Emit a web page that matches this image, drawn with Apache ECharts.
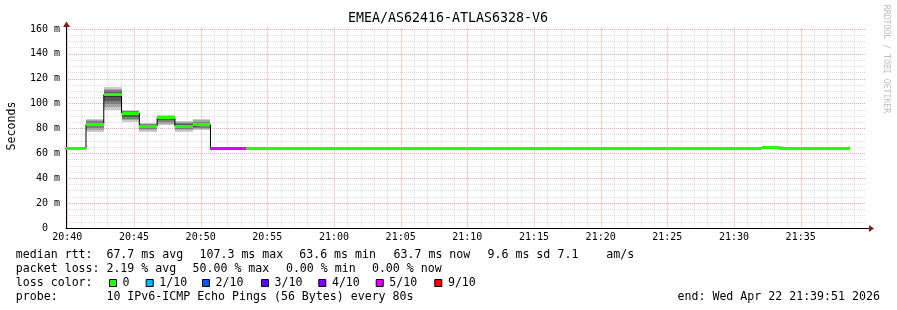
<!DOCTYPE html>
<html><head><meta charset="utf-8">
<script src="https://cdn.jsdelivr.net/npm/echarts@6/dist/echarts.min.js"></script>
<style>html,body{margin:0;padding:0;background:#fff}#c{width:897px;height:310px}</style>
</head><body><div id="c"></div>
<script>
// ---------------- data ----------------
const chartTitle = 'EMEA/AS62416-ATLAS6328-V6';
const graphStart = '20:39:54';
const graphEnd = '21:39:54';
// start of each 80 s step (last entry = end of last step)
const bucketTimes = ['20:38:44','20:40:04','20:41:24','20:42:44','20:44:04','20:45:24','20:46:44','20:48:04','20:49:24','20:50:44',
  '20:52:04','20:53:24','20:54:44','20:56:04','20:57:24','20:58:44','21:00:04','21:01:24','21:02:44','21:04:04',
  '21:05:24','21:06:44','21:08:04','21:09:24','21:10:44','21:12:04','21:13:24','21:14:44','21:16:04','21:17:24',
  '21:18:44','21:20:04','21:21:24','21:22:44','21:24:04','21:25:24','21:26:44','21:28:04','21:29:24','21:30:44',
  '21:32:04','21:33:24','21:34:44','21:36:04','21:37:24','21:38:44'];
// median rtt per step, ms
const medians = [63.7,63.7,83.4,107.1,92.4,82.0,88.7,82.0,83.0,64.2,
  63.7,63.7,63.7,63.7,63.7,64.3,64.3,64.3,64.3,64.3,
  63.7,63.7,63.7,63.7,63.7,63.7,64.3,64.3,64.3,64.3,
  64.3,64.3,63.6,63.6,63.6,63.6,63.6,64.3,64.3,64.3,
  65.0,64.3,63.7,63.7,63.7];
// lost pings (of 10) per step
const lossCounts = [0,0,0,0,0,0,0,0,0,5,
  5,0,0,0,0,0,0,0,0,0,
  0,0,0,0,0,0,0,0,0,0,
  0,0,0,0,0,0,0,0,0,0,
  0,0,0,0,0];
// sorted ping times (ms) per step where smoke is visible
const pings = [null,null,
  [76.8,78.5,80.5,81.8,83.0,83.8,84.8,85.8,86.8,87.6],
  [95.0,97.5,100.0,102.5,105.5,108.0,109.5,110.8,112.0,113.3],
  [85.2,86.5,88.0,89.5,91.5,92.8,93.3,93.8,94.2,94.5],
  [77.2,78.5,79.5,80.5,81.5,82.3,82.8,83.3,83.9,84.4],
  [82.5,83.8,85.0,86.5,88.0,89.0,89.5,89.9,90.2,90.5],
  [77.2,78.5,79.5,80.5,81.5,82.5,83.5,84.5,85.3,86.0],
  [78.5,79.5,80.5,81.8,82.8,83.3,84.3,85.5,86.7,87.9]];
const tickLabels = ['20:40','20:45','20:50','20:55','21:00','21:05','21:10','21:15','21:20','21:25','21:30','21:35'];
const lossLegendLabels = ['0','1/10','2/10','3/10','4/10','5/10','9/10'];
const lossLegendColors = ['#26ff00','#00b8ff','#0059ff','#5e00ff','#7e00ff','#dd00ff','#ff0000'];
const rttStats = ['median rtt:','67.7 ms avg','107.3 ms max','63.6 ms min','63.7 ms now','9.6 ms sd','7.1    am/s'];
const lossStats = ['packet loss:','2.19 % avg','50.00 % max','0.00 % min','0.00 % now'];
const probeText = ['probe:','10 IPv6-ICMP Echo Pings (56 Bytes) every 80s'];
const endText = 'end: Wed Apr 22 21:39:51 2026';
const creditText = 'RRDTOOL / TOBI OETIKER';
const yLabel = 'Seconds';

// ---------------- helpers ----------------
function sec(s){const p=s.split(':').map(Number);return p[0]*3600+p[1]*60+(p[2]||0);}
function hhmm(v){const h=Math.floor(v/3600),m=Math.round((v%3600)/60);return String(h).padStart(2,'0')+':'+String(m).padStart(2,'0');}
function lossIdx(c){return c>=9?6:Math.min(c,5);}
const X0 = sec(graphStart), X1 = sec(graphEnd);
const tickVals = tickLabels.map(t=>sec(t+':00'));
const FONT = '"DejaVu Sans Mono", monospace';
const smokeColors = ['#cacaca','#a4a4a4','#7e7e7e','#585858','#323232'];
const MINOR = '#dcdcdc', MAJOR = '#f2a6a6';
const VMINOR = '#ececec', VMAJOR = '#f8d0d0';

const bucketData = medians.map((m,i)=>[sec(bucketTimes[i]), sec(bucketTimes[i+1]), m, lossIdx(lossCounts[i]), i]);
const smokeData = bucketData.filter(d=>pings[d[4]]);
const stepLine = medians.map((m,i)=>[sec(bucketTimes[i]), m]);
stepLine.push([sec(bucketTimes[bucketTimes.length-1]), medians[medians.length-1]]);

const chart = echarts.init(document.getElementById('c'), null, {renderer:'canvas'});

const txt = (text, x, y, extra) => ({type:'text', silent:true, style:Object.assign({text, x, y, font:'11.6px '+FONT, fill:'#000', verticalAlign:'middle'}, extra||{})});

const graphics = [];
graphics.push(txt(chartTitle, 448, 19, {align:'center', font:'13.3px '+FONT}));
graphics.push({type:'text', silent:true, x:12, y:126, rotation:Math.PI/2, style:{text:yLabel, font:'11.6px '+FONT, fill:'#000', align:'center', verticalAlign:'middle'}});
graphics.push({type:'text', silent:true, x:886, y:59, rotation:-Math.PI/2, style:{text:creditText, font:'8.2px '+FONT, fill:'#c0c0c0', align:'center', verticalAlign:'middle'}});
const rttX = [15.8,106.4,199.5,299.2,393.5,487.5,557.5];
rttStats.forEach((s,i)=>graphics.push(txt(s, rttX[i], 255)));
const lossX = [15.8,106.4,192.5,285.9,371.9];
lossStats.forEach((s,i)=>graphics.push(txt(s, lossX[i], 268.7)));
graphics.push(txt('loss color:', 15.8, 282.5));
const boxX = [109,145.7,202,261,318.3,375.7,434.3];
lossLegendLabels.forEach((l,i)=>{
  graphics.push({type:'rect', silent:true, shape:{x:boxX[i]+0.5, y:279.5, width:7, height:7}, style:{fill:lossLegendColors[i], stroke:'#000', lineWidth:1}});
  graphics.push(txt(l, boxX[i]+13.6, 282.5));
});
graphics.push(txt(probeText[0], 15.8, 296.5));
graphics.push(txt(probeText[1], 106.4, 296.5));
graphics.push(txt(endText, 677.5, 296.5));
graphics.push({type:'line', silent:true, shape:{x1:866, y1:228.5, x2:870, y2:228.5}, style:{stroke:'#000', lineWidth:1}});
graphics.push({type:'polygon', silent:true, shape:{points:[[869,225],[874,228.5],[869,232]]}, style:{fill:'#8b1c1c'}});
graphics.push({type:'line', silent:true, shape:{x1:66.5, y1:24, x2:66.5, y2:29}, style:{stroke:'#000', lineWidth:1}});
graphics.push({type:'polygon', silent:true, shape:{points:[[63,27],[66.5,21.5],[70,27]]}, style:{fill:'#8b1c1c'}});

const option = {
  animation:false,
  backgroundColor:'#ffffff',
  textStyle:{fontFamily:FONT},
  grid:{left:66, top:29, width:800, height:199, containLabel:false, outerBoundsMode:'none'},
  xAxis:{type:'value', min:X0, max:X1,
    axisLine:{show:true, lineStyle:{color:'#000', width:1}},
    axisTick:{show:false}, splitLine:{show:false}, minorSplitLine:{show:false},
    axisLabel:{customValues:tickVals, formatter:v=>hhmm(v), color:'#000', fontSize:10, fontFamily:FONT, margin:4, hideOverlap:false}},
  yAxis:{type:'value', min:0, max:160, interval:20,
    axisLine:{show:true, lineStyle:{color:'#000', width:1}},
    axisTick:{show:false},
    axisLabel:{formatter:v=>v===0?'0  ':v+' m', color:'#000', fontSize:10, fontFamily:FONT, margin:6},
    splitLine:{show:true, lineStyle:{color:MAJOR, width:1, type:[1,1]}},
    minorTick:{show:false, splitNumber:4},
    minorSplitLine:{show:true, lineStyle:{color:MINOR, width:1, type:[1,1]}}},
  series:[
    {type:'custom', name:'smoke', z:2, silent:true, clip:true, data:smokeData,
      renderItem:(params, api)=>{
        const ts = api.value(0), te = api.value(1), idx = api.value(4);
        const p = pings[idx];
        const children = [];
        for (let b = 0; b < 5; b++) {
          const a = api.coord([ts, p[9-b]]);
          const c = api.coord([te, p[b]]);
          const x0 = Math.round(a[0]), x1 = Math.round(c[0]);
          const y0 = Math.round(a[1]), y1 = Math.round(c[1]);
          children.push({type:'rect', shape:{x:x0, y:y0, width:x1-x0, height:Math.max(1,y1-y0)}, style:{fill:smokeColors[b]}});
        }
        return {type:'group', children};
      }},
    {type:'line', name:'median-outline', z:3, silent:true, step:'end', showSymbol:false, clip:true,
      data:stepLine, lineStyle:{color:'#000', width:1}, itemStyle:{color:'#000'}},
    {type:'custom', name:'median', z:4, silent:true, clip:true, data:bucketData,
      renderItem:(params, api)=>{
        const a = api.coord([api.value(0), api.value(2)]);
        const c = api.coord([api.value(1), api.value(2)]);
        const x0 = Math.round(a[0]), x1 = Math.round(c[0]);
        const y0 = Math.round(a[1] - 1.5);
        return {type:'rect', shape:{x:x0, y:y0, width:x1-x0, height:3}, style:{fill:lossLegendColors[api.value(3)]}};
      }}
  ],
  graphic:graphics
};
chart.setOption(option);

// vertical grid lines (every minute, majors at the labelled ticks), placed through the x scale
const yTop = chart.convertToPixel({yAxisIndex:0}, 160), yBot = chart.convertToPixel({yAxisIndex:0}, 0);
for (let t = tickVals[0]; t < X1; t += 60) {
  const x = Math.round(chart.convertToPixel({xAxisIndex:0}, t)) + 0.5;
  const major = tickVals.indexOf(t) >= 0;
  graphics.push({type:'line', silent:true, z:-1, shape:{x1:x, y1:Math.round(yTop)-2, x2:x, y2:Math.round(yBot)},
    style:{stroke:major?VMAJOR:VMINOR, lineWidth:1}});
}
chart.setOption({graphic:graphics}, {replaceMerge:['graphic']});
</script>
</body></html>
